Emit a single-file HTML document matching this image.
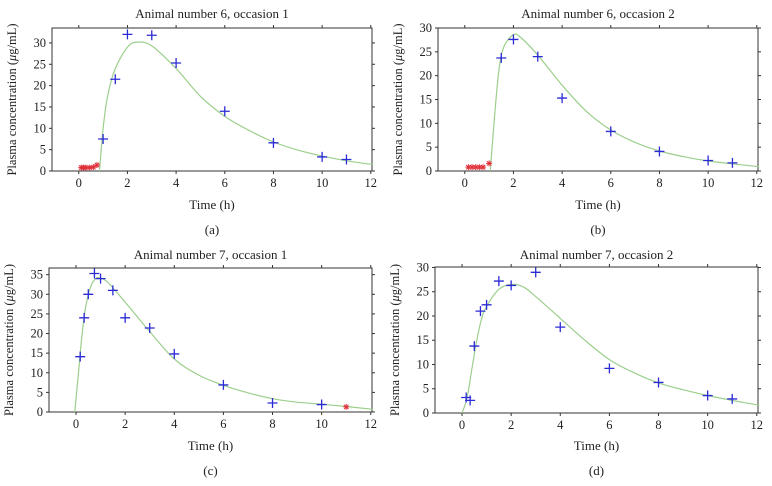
<!DOCTYPE html>
<html><head><meta charset="utf-8"><style>
html,body{margin:0;padding:0;background:#fff;}
svg{display:block;font-family:"Liberation Serif",serif;}
</style></head><body>
<svg id="c" width="772" height="486"></svg>
<script>
// Panel data (a)
const aStarT=[0.1,0.2,0.3,0.45,0.6,0.75];
const aStarC=[0.8,0.8,0.8,0.8,0.9,1.4];
const aObsT=[1,1.5,2,3,4,6,8,10,11];
const aObsC=[7.5,21.5,32,31.8,25.3,14,6.6,3.3,2.7];
const aFitT=[0.85,1,1.2,1.5,2,2.4,3,4,5,6,7,8,9,10,11,12.1];
const aFitC=[0,10,18,24,29,30.2,29.3,24,17.5,12.8,9.5,6.8,4.9,3.5,2.4,1.5];
// (b)
const bStarT=[0.15,0.3,0.45,0.6,0.75,1.0];
const bStarC=[0.8,0.8,0.8,0.8,0.8,1.6];
const bObsT=[1.5,2,3,4,6,8,10,11];
const bObsC=[23.7,27.6,24,15.3,8.3,4.1,2.2,1.7];
const bFitT=[1.05,1.2,1.4,1.6,2,2.3,3,4,5,6,7,8,9,10,11,12.1];
const bFitC=[0,10,21,26,28.6,28,24.3,18,12.5,8.6,6,4.2,3,2.1,1.5,0.9];
// (c)
const cStarT=[11];
const cStarC=[1.3];
const cObsT=[0.17,0.33,0.5,0.75,1,1.5,2,3,4,6,8,10];
const cObsC=[14.1,24,30,35.3,34,31,24,21.4,14.8,6.9,2.3,1.9];
const cFitT=[-0.05,0.1,0.25,0.4,0.6,0.8,1,1.3,2,3,4,5,6,7,8,9,10,11,12.1];
const cFitC=[0,10,20,27,32,34,34.1,33,28,20.5,13.5,9.4,6.8,4.9,3.4,2.5,2,1.4,0.7];
// (d)
const dStarT=[];
const dStarC=[];
const dObsT=[0.17,0.33,0.5,0.75,1,1.5,2,3,4,6,8,10,11];
const dObsC=[3.2,2.6,13.8,21,22.3,27.2,26.3,29,17.7,9.2,6.3,3.6,2.9];
const dFitT=[0,0.2,0.4,0.6,0.8,1,1.5,2,2.5,3,4,5,6,7,8,9,10,11,12.1];
const dFitC=[0,3,9,15,19.5,22,25.5,26.5,26,24,19.5,15,11,8.3,6.2,4.8,3.6,2.6,1.6];
const xTicks=[0,2,4,6,8,10,12];
const yTicksA=[0,5,10,15,20,25,30];
const yTicksC=[0,5,10,15,20,25,30,35];

const NS="http://www.w3.org/2000/svg";
const svg=document.getElementById('c');
function mk(tag,attrs,parent){const e=document.createElementNS(NS,tag);for(const k in attrs)e.setAttribute(k,attrs[k]);(parent||svg).appendChild(e);return e;}
function smooth(P){
 let d='M'+P[0][0].toFixed(1)+','+P[0][1].toFixed(1);
 for(let i=0;i<P.length-1;i++){
  const p0=P[Math.max(0,i-1)],p1=P[i],p2=P[i+1],p3=P[Math.min(P.length-1,i+2)];
  const c1=[p1[0]+(p2[0]-p0[0])/6,p1[1]+(p2[1]-p0[1])/6];
  const c2=[p2[0]-(p3[0]-p1[0])/6,p2[1]-(p3[1]-p1[1])/6];
  d+=`C${c1[0].toFixed(1)},${c1[1].toFixed(1)} ${c2[0].toFixed(1)},${c2[1].toFixed(1)} ${p2[0].toFixed(1)},${p2[1].toFixed(1)}`;
 }
 return d;
}

const panels=[
 {id:'a',title:'Animal number 6, occasion 1',L:52,R:372,T:28,B:171,ymax:33.5,yt:yTicksA,st:aStarT,sc:aStarC,ot:aObsT,oc:aObsC,ft:aFitT,fc:aFitC,ty:14,xy:205,cy:230},
 {id:'b',title:'Animal number 6, occasion 2',L:438,R:758,T:28,B:171,ymax:30,yt:yTicksA,st:bStarT,sc:bStarC,ot:bObsT,oc:bObsC,ft:bFitT,fc:bFitC,ty:14,xy:205,cy:230},
 {id:'c',title:'Animal number 7, occasion 1',L:49,R:372,T:268,B:412,ymax:36.7,yt:yTicksC,st:cStarT,sc:cStarC,ot:cObsT,oc:cObsC,ft:cFitT,fc:cFitC,ty:255,xy:446,cy:471},
 {id:'d',title:'Animal number 7, occasion 2',L:435,R:758,T:267,B:413,ymax:30.1,yt:yTicksA,st:dStarT,sc:dStarC,ot:dObsT,oc:dObsC,ft:dFitT,fc:dFitC,ty:255,xy:446,cy:471}
];
const XMIN=-1.1,XMAX=12.05;
panels.forEach(p=>{
 const g=mk('g',{});
 
 
 const xs=t=>p.L+(t-XMIN)/(XMAX-XMIN)*(p.R-p.L);
 const ys=v=>p.B-v/p.ymax*(p.B-p.T);
 const cx=(p.L+p.R)/2;
 const tt=mk('text',{x:cx,y:p.ty+4,'text-anchor':'middle','font-size':'13',fill:'#222'},g);
 tt.textContent=p.title;
 
 
 const box=mk('rect',{x:p.L,y:p.T,width:p.R-p.L,height:p.B-p.T,fill:'none',stroke:'#333','stroke-width':1},g);
 
 
 xTicks.forEach(t=>{
  const x=xs(t);
  mk('line',{x1:x,x2:x,y1:p.B,y2:p.B+3,stroke:'#333'},g);
  mk('line',{x1:x,x2:x,y1:p.T,y2:p.T-3,stroke:'#333'},g);
  const l=mk('text',{x:x,y:p.B+16,'text-anchor':'middle','font-size':'12.5',fill:'#222'},g);
  l.textContent=t;
  
  
 });
 p.yt.forEach(v=>{
  const y=ys(v);
  mk('line',{x1:p.L,x2:p.L-3,y1:y,y2:y,stroke:'#333'},g);
  mk('line',{x1:p.R,x2:p.R+3,y1:y,y2:y,stroke:'#333'},g);
  const l=mk('text',{x:p.L-6,y:y+4,'text-anchor':'end','font-size':'12.5',fill:'#222'},g);
  l.textContent=v;
  
  
 });
 const xt=mk('text',{x:cx,y:p.xy+4,'text-anchor':'middle','font-size':'13',fill:'#222'},g);
 xt.textContent='Time (h)';
 
 
 const ycy=(p.T+p.B)/2;
 const yx=p.L-36;
 const yt=mk('text',{x:yx,y:ycy,'text-anchor':'middle','font-size':'12.5',fill:'#222',transform:`rotate(-90 ${yx} ${ycy})`},g);
 yt.innerHTML='Plasma concentration (<tspan font-style="italic">μ</tspan>g/mL)';
 
 
 const cap=mk('text',{x:cx,y:p.cy+4,'text-anchor':'middle','font-size':'13',fill:'#222'},g);
 cap.textContent='('+p.id+')';
 
 
 const P=p.ft.map((t,i)=>[xs(t),ys(p.fc[i])]);
 const fl=mk('path',{d:smooth(P),fill:'none',stroke:'#9ccf8c','stroke-width':1.2},g);
 
 
 p.ot.forEach((t,i)=>{
  const x=xs(t),y=ys(p.oc[i]);
  const m=mk('path',{d:`M${x-5},${y}H${x+5}M${x},${y-5}V${y+5}`,stroke:'#2b2bd6','stroke-width':1.3},g);
  
  
 });
 p.st.forEach((t,i)=>{
  const x=xs(t),y=ys(p.sc[i]);
  const m=mk('path',{d:`M${x-3},${y}H${x+3}M${x},${y-3}V${y+3}M${x-2.2},${y-2.2}L${x+2.2},${y+2.2}M${x-2.2},${y+2.2}L${x+2.2},${y-2.2}`,stroke:'#e0303a','stroke-width':1},g);
  
  
 });
});
</script>
</body></html>
